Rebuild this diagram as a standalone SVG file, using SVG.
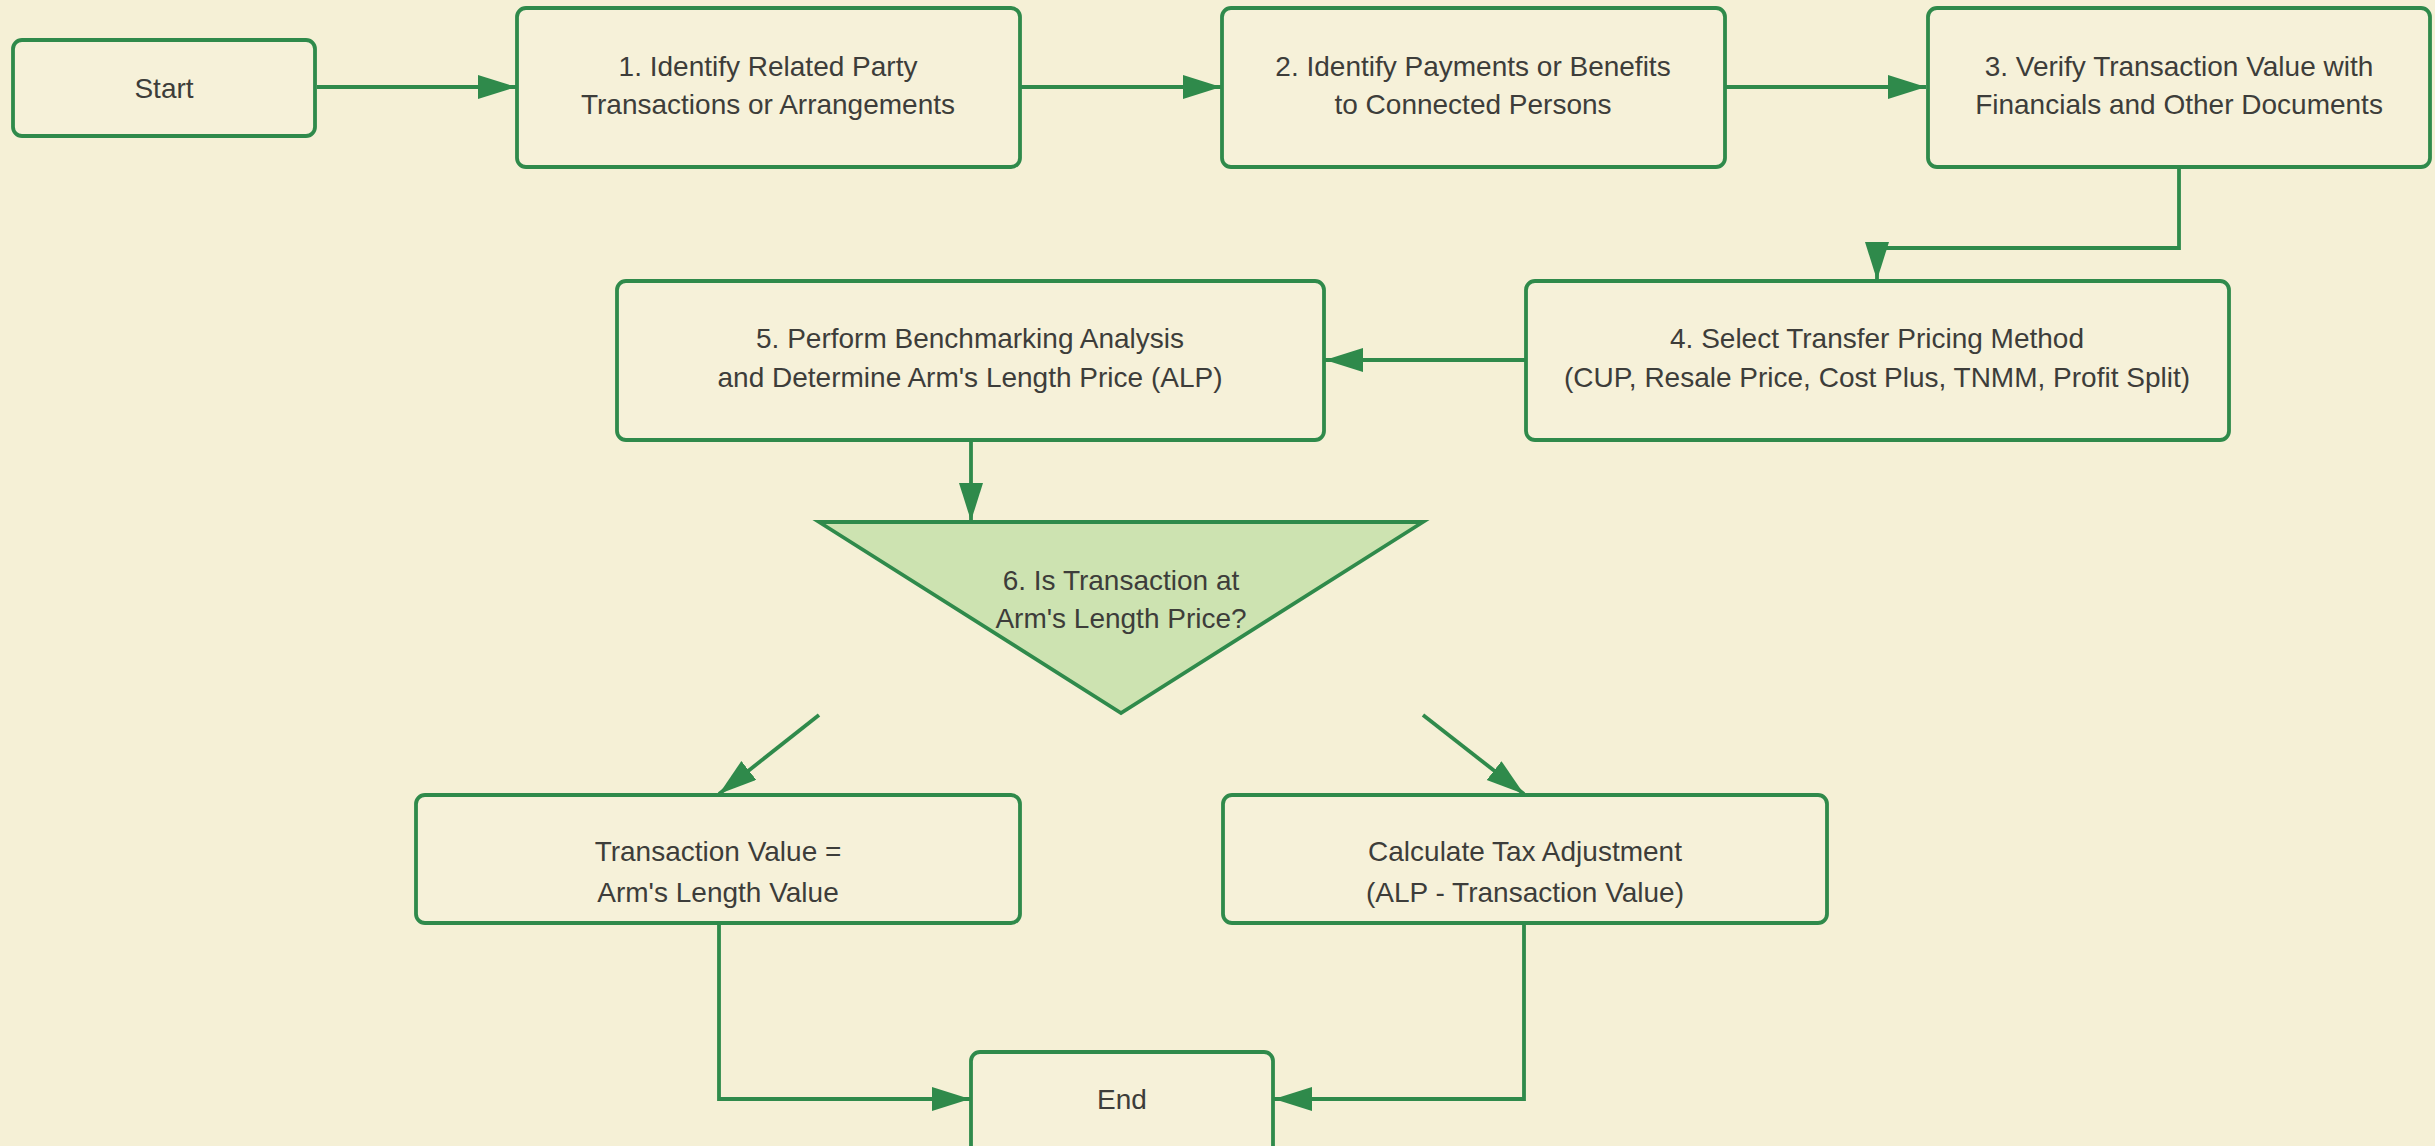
<svg xmlns="http://www.w3.org/2000/svg" width="2435" height="1146" viewBox="0 0 2435 1146">
<style>
.bg{fill:#f5f0d6}
.box{fill:#f6f1d9;stroke:#2f8a4b;stroke-width:3.8}
.dec{fill:#cde3b1;stroke:#2f8a4b;stroke-width:3.8;stroke-linejoin:miter}
.lbl{font-family:"Liberation Sans",Arial,sans-serif;font-size:28px;fill:#3d3d3a;text-anchor:middle;dominant-baseline:central}
.edge{fill:none;stroke:#2f8a4b;stroke-width:3.8}
</style>
<defs>
<marker id="arr" markerUnits="userSpaceOnUse" markerWidth="40" markerHeight="26" refX="38" refY="12" orient="auto">
<path d="M0,0 L38,12 L0,24 Z" fill="#2f8a4b"/>
</marker>
</defs>
<rect class="bg" x="0" y="0" width="2435" height="1146"/>
<g id="connectors">
<path class="edge" d="M317,87 L516,87" marker-end="url(#arr)"/>
<path class="edge" d="M1021,87 L1221,87" marker-end="url(#arr)"/>
<path class="edge" d="M1726,87 L1926,87" marker-end="url(#arr)"/>
<path class="edge" d="M2179,167 L2179,248 L1877,248 L1877,280" marker-end="url(#arr)"/>
<path class="edge" d="M1525,360 L1325,360" marker-end="url(#arr)"/>
<path class="edge" d="M971,441 L971,521" marker-end="url(#arr)"/>
<path class="edge" d="M819,715 L719,794" marker-end="url(#arr)"/>
<path class="edge" d="M1423,715 L1524,794" marker-end="url(#arr)"/>
<path class="edge" d="M719,923 L719,1099 L970,1099" marker-end="url(#arr)"/>
<path class="edge" d="M1524,923 L1524,1099 L1274,1099" marker-end="url(#arr)"/>
</g>
<g id="start">
<rect class="box" x="13" y="40" width="302" height="96" rx="9"/>
<text class="lbl" x="164" y="88">Start</text>
</g>
<g id="step1">
<rect class="box" x="517" y="8" width="503" height="159" rx="9"/>
<text class="lbl" x="768" y="66">1. Identify Related Party</text>
<text class="lbl" x="768" y="104">Transactions or Arrangements</text>
</g>
<g id="step2">
<rect class="box" x="1222" y="8" width="503" height="159" rx="9"/>
<text class="lbl" x="1473" y="66">2. Identify Payments or Benefits</text>
<text class="lbl" x="1473" y="104">to Connected Persons</text>
</g>
<g id="step3">
<rect class="box" x="1928" y="8" width="502" height="159" rx="9"/>
<text class="lbl" x="2179" y="66">3. Verify Transaction Value with</text>
<text class="lbl" x="2179" y="104">Financials and Other Documents</text>
</g>
<g id="step4">
<rect class="box" x="1526" y="281" width="703" height="159" rx="9"/>
<text class="lbl" x="1877" y="338">4. Select Transfer Pricing Method</text>
<text class="lbl" x="1877" y="377">(CUP, Resale Price, Cost Plus, TNMM, Profit Split)</text>
</g>
<g id="step5">
<rect class="box" x="617" y="281" width="707" height="159" rx="9"/>
<text class="lbl" x="970" y="338">5. Perform Benchmarking Analysis</text>
<text class="lbl" x="970" y="377">and Determine Arm's Length Price (ALP)</text>
</g>
<g id="decision">
<polygon class="dec" points="819,522 1423,522 1121,713"/>
<text class="lbl" x="1121" y="580">6. Is Transaction at</text>
<text class="lbl" x="1121" y="618">Arm's Length Price?</text>
</g>
<g id="equal">
<rect class="box" x="416" y="795" width="604" height="128" rx="9"/>
<text class="lbl" x="718" y="851">Transaction Value =</text>
<text class="lbl" x="718" y="892">Arm's Length Value</text>
</g>
<g id="adjust">
<rect class="box" x="1223" y="795" width="604" height="128" rx="9"/>
<text class="lbl" x="1525" y="851">Calculate Tax Adjustment</text>
<text class="lbl" x="1525" y="892">(ALP - Transaction Value)</text>
</g>
<g id="end">
<rect class="box" x="971" y="1052" width="302" height="104" rx="9"/>
<text class="lbl" x="1122" y="1099">End</text>
</g>
</svg>
